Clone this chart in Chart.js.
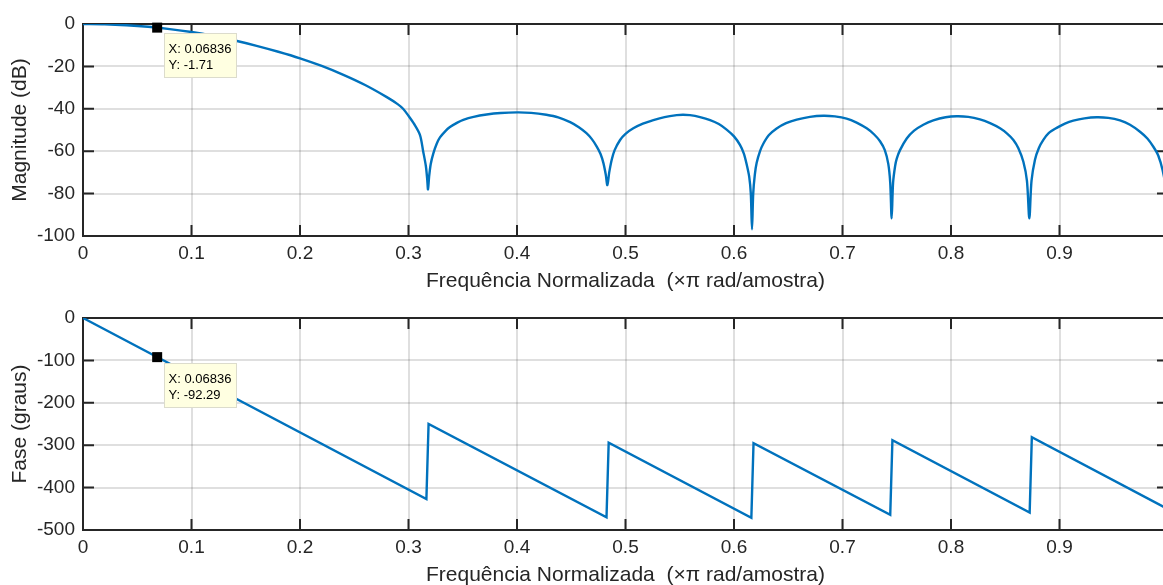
<!DOCTYPE html>
<html>
<head>
<meta charset="utf-8">
<script src="https://cdn.jsdelivr.net/npm/chart.js@4/dist/chart.umd.min.js"></script>
<style>
  html, body { margin: 0; padding: 0; background: #fff; overflow: hidden; }
  #wrap { position: relative; width: 1163px; height: 585px; overflow: hidden; }
  canvas { position: absolute; left: 0; }
  #mag  { top: 0; }
  #fase { top: 294px; }
</style>
</head>
<body>
<div id="wrap">
  <canvas id="mag" width="1200" height="294"></canvas>
  <canvas id="fase" width="1200" height="294"></canvas>
</div>
<script>
// magnitude response (dB)
var magFreq = [
  0, 0.02, 0.04, 0.06, 0.08, 0.10, 0.12, 0.14, 0.16, 0.18,
  0.20, 0.22, 0.24, 0.26, 0.28, 0.29, 0.295, 0.30, 0.305, 0.3106,
  0.3135, 0.3160, 0.3172, 0.3180,
  0.3190, 0.3205, 0.3229, 0.326, 0.329, 0.334, 0.3382, 0.345, 0.3505, 0.36,
  0.372, 0.385, 0.400, 0.413, 0.427, 0.438, 0.449, 0.457, 0.464, 0.469,
  0.4735, 0.477, 0.4796, 0.4818, 0.4833,
  0.4850, 0.4873, 0.490, 0.495, 0.500, 0.5072, 0.516, 0.5257, 0.536, 0.5472,
  0.553, 0.5594, 0.5687, 0.578, 0.586, 0.5932, 0.600, 0.6055, 0.609, 0.6116,
  0.6140, 0.6155, 0.6166,
  0.6177, 0.6192, 0.6209, 0.624, 0.627, 0.632, 0.6393, 0.648, 0.6578, 0.670,
  0.6823, 0.693, 0.7038, 0.713, 0.7223, 0.729, 0.7346, 0.739, 0.7422, 0.7440,
  0.7453,
  0.7466, 0.7485, 0.7500, 0.7530, 0.7592, 0.766, 0.7745, 0.7837, 0.795, 0.8052,
  0.816, 0.8267, 0.836, 0.8452, 0.852, 0.8575, 0.862, 0.8667, 0.8700, 0.8722,
  0.8742, 0.8774, 0.8810, 0.8851, 0.890, 0.8974, 0.905, 0.9127, 0.923, 0.9343,
  0.945, 0.9558, 0.965, 0.9742, 0.981, 0.9865, 0.991, 0.995, 0.998, 1.0];
var magDb = [
  0, -0.15, -0.6, -1.33, -2.4, -3.8, -5.6, -7.8, -10.3, -13.1,
  -16.2, -19.8, -24, -28.8, -34.5, -37.8, -40, -43.3, -47, -52.4,
  -60, -67, -73, -78,
  -72, -66, -61, -56.5, -53.5, -50.5, -48.6, -46.5, -45.2, -43.8,
  -42.7, -42, -41.7, -41.9, -42.8, -44, -46.3, -48.7, -51.5, -54.3,
  -57.8, -61.3, -65.5, -71, -76,
  -70, -64, -59.5, -54.7, -51.8, -49.2, -47, -45.3, -43.9, -43.0,
  -42.8, -43.0, -43.9, -45.3, -47.2, -49.8, -53, -57, -61, -66,
  -72, -80, -96.8,
  -80, -71, -65.5, -60, -56.5, -52.5, -49.3, -46.8, -45.1, -43.8,
  -43.3, -43.6, -44.6, -46.5, -49.2, -52, -55.3, -59.5, -66, -75,
  -91.7,
  -75, -67, -63.5, -59.5, -54, -50.3, -47.5, -45.5, -44, -43.5,
  -43.8, -45, -46.8, -49.2, -51.8, -54.7, -58.5, -65, -74, -91.7,
  -74, -64, -58.5, -54.7, -51.5, -49, -47, -45.6, -44.5, -44,
  -44.3, -45.5, -47.5, -50.8, -54, -57.9, -62, -68.9, -78, -100];

// phase (degrees), corners of the sawtooth
var phaseFreq = [0, 0.3165, 0.3185, 0.4825, 0.4845, 0.6160, 0.6180, 0.7440, 0.7460, 0.8725, 0.8745, 1.0];
var phaseDeg  = [0, -427, -250, -470, -294, -471, -295, -464, -288, -459, -281, -451];

var xTicks     = [0, 0.1, 0.2, 0.3, 0.4, 0.5, 0.6, 0.7, 0.8, 0.9];
var magTicks   = [-100, -80, -60, -40, -20, 0];
var phaseTicks = [-500, -400, -300, -200, -100, 0];

// data tips
var tipX = 0.06836;
var tipMag = -1.71;
var tipPhase = -92.29;

var AX = '#262626';
var BLUE = '#0072BD';
var GRID = 'rgba(38,38,38,0.15)';
var FONT = "'Liberation Sans', Arial, Helvetica, sans-serif";
var TICK = 11;

function pts(xs, ys) {
  return xs.map(function (x, i) { return { x: x, y: ys[i] }; });
}

// box round the axes, ticks pointing inward on all four sides
var boxPlugin = {
  id: 'box',
  beforeDatasetsDraw: function (chart) {
    var a = chart.chartArea, ctx = chart.ctx;
    var xs = chart.scales.x, ys = chart.scales.y;
    ctx.save();
    ctx.strokeStyle = AX;
    ctx.lineWidth = 2;
    ctx.beginPath();
    xs.ticks.forEach(function (t) {
      var p = xs.getPixelForValue(t.value);
      ctx.moveTo(p, a.bottom); ctx.lineTo(p, a.bottom - TICK);
      ctx.moveTo(p, a.top);    ctx.lineTo(p, a.top + TICK);
    });
    ys.ticks.forEach(function (t) {
      var p = ys.getPixelForValue(t.value);
      ctx.moveTo(a.left, p);  ctx.lineTo(a.left + TICK, p);
      ctx.moveTo(a.right, p); ctx.lineTo(a.right - TICK, p);
    });
    ctx.stroke();
    ctx.strokeRect(a.left, a.top, a.right - a.left, a.bottom - a.top);
    ctx.restore();
  }
};

function datatip(tipY) {
  return {
    id: 'datatip',
    afterDatasetsDraw: function (chart) {
      var ctx = chart.ctx;
      var px = chart.scales.x.getPixelForValue(tipX);
      var py = chart.scales.y.getPixelForValue(tipY);
      var bx = Math.round(px + 6.5), by = Math.round(py + 5.5), bw = 73, bh = 45;
      ctx.save();
      ctx.fillStyle = '#ffffe1';
      ctx.fillRect(bx, by, bw, bh);
      ctx.strokeStyle = '#dcdccc';
      ctx.lineWidth = 1;
      ctx.strokeRect(bx + 0.5, by + 0.5, bw - 1, bh - 1);
      ctx.fillStyle = '#000';
      ctx.font = '13px ' + FONT;
      ctx.textAlign = 'left';
      ctx.textBaseline = 'middle';
      ctx.fillText('X: ' + tipX, bx + 4.5, by + 16);
      ctx.fillText('Y: ' + tipY, bx + 4.5, by + 32);
      ctx.fillRect(px - 5, py - 5, 10, 10);
      ctx.restore();
    }
  };
}

function makeChart(id, xs, ys, yTicks, yTitle, tipY, tension) {
  return new Chart(document.getElementById(id), {
    type: 'line',
    data: {
      datasets: [{
        data: pts(xs, ys),
        borderColor: BLUE,
        borderWidth: 2.4,
        pointRadius: 0,
        tension: tension,
        fill: false
      }]
    },
    options: {
      responsive: false,
      devicePixelRatio: 1,
      animation: false,
      layout: { padding: { top: 24, right: 32, left: 0, bottom: 0 } },
      plugins: { legend: { display: false }, tooltip: { enabled: false } },
      scales: {
        x: {
          type: 'linear', min: 0, max: 1,
          afterBuildTicks: function (s) { s.ticks = xTicks.map(function (v) { return { value: v }; }); },
          afterFit: function (s) { s.height = 58; },
          ticks: {
            color: AX, font: { family: FONT, size: 19 }, padding: 6,
            maxRotation: 0, autoSkip: false,
            callback: function (v) { return String(v); }
          },
          grid: { color: GRID, lineWidth: 2, drawTicks: false },
          border: { display: false },
          title: {
            display: true, text: 'Frequência Normalizada  (×π rad/amostra)',
            color: AX, font: { family: FONT, size: 21 }, padding: { top: 0, bottom: 0 }
          }
        },
        y: {
          type: 'linear', min: yTicks[0], max: yTicks[yTicks.length - 1],
          afterBuildTicks: function (s) { s.ticks = yTicks.map(function (v) { return { value: v }; }); },
          afterFit: function (s) { s.width = 83; },
          ticks: {
            color: AX, font: { family: FONT, size: 19 }, padding: 8, autoSkip: false,
            callback: function (v) { return String(v); }
          },
          grid: { color: GRID, lineWidth: 2, drawTicks: false },
          border: { display: false },
          title: {
            display: true, text: yTitle,
            color: AX, font: { family: FONT, size: 21 }, padding: { top: 8, bottom: 0 }
          }
        }
      }
    },
    plugins: [boxPlugin, datatip(tipY)]
  });
}

makeChart('mag', magFreq, magDb, magTicks, 'Magnitude (dB)', tipMag, 0.3);
makeChart('fase', phaseFreq, phaseDeg, phaseTicks, 'Fase (graus)', tipPhase, 0);
</script>
</body>
</html>
